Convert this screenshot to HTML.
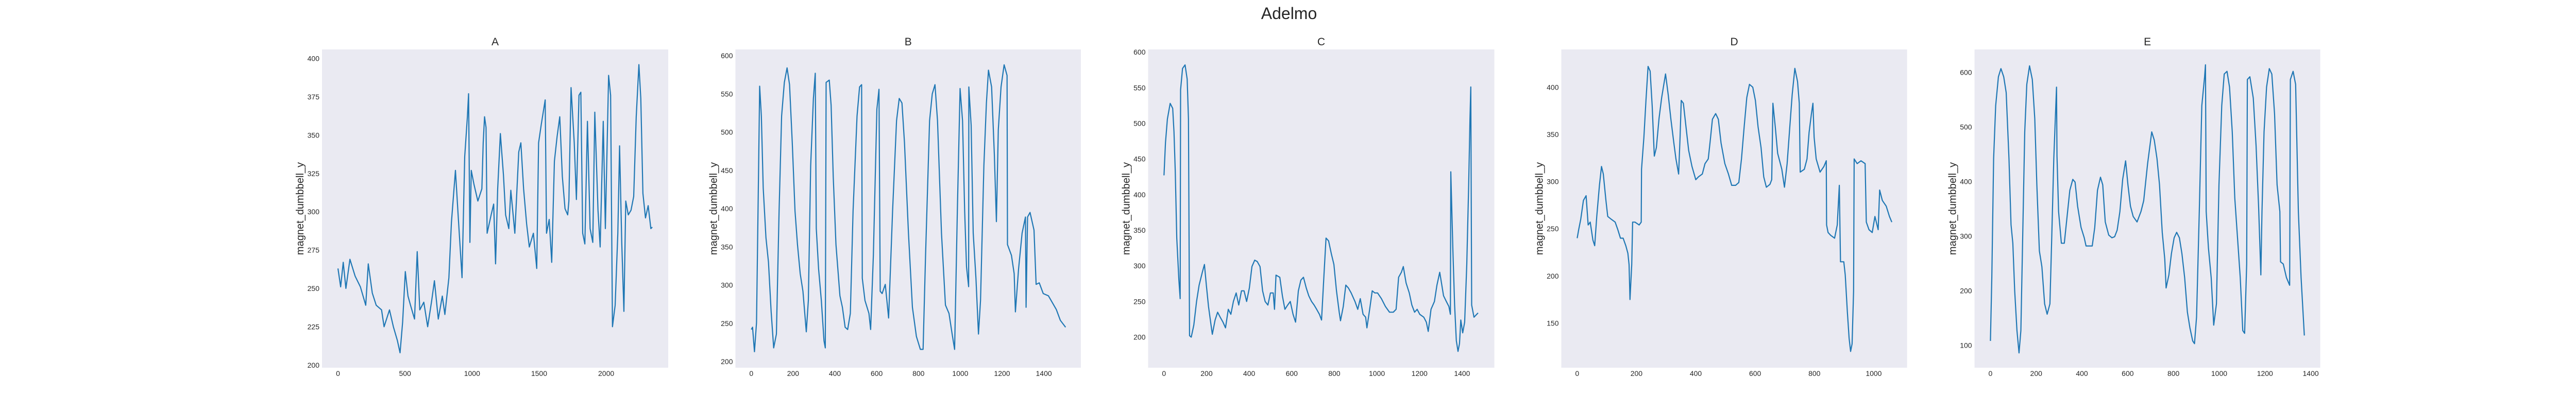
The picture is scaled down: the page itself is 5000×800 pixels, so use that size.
<!DOCTYPE html>
<html><head><meta charset="utf-8">
<style>
html,body{margin:0;padding:0;background:#fff;}
svg{display:block;font-family:"Liberation Sans",sans-serif;}
</style></head>
<body>
<svg id="chart" width="5000" height="800" viewBox="0 0 5000 800" xmlns="http://www.w3.org/2000/svg">
<text x="2502" y="37" text-anchor="middle" font-size="32" fill="#262626">Adelmo</text>
</svg>
<script>
const titles = ["A","B","C","D","E"];
const xA = [0,20,39,59,89,128,167,207,226,256,285,325,344,384,413,443,463,482,502,522,541,571,591,610,640,669,699,719,748,778,797,827,846,876,896,925,945,965,974,984,994,1014,1043,1073,1083,1093,1104,1112,1142,1161,1175,1191,1211,1234,1250,1274,1289,1319,1348,1364,1384,1407,1427,1457,1482,1496,1516,1545,1555,1575,1594,1614,1634,1654,1673,1693,1713,1722,1738,1762,1778,1797,1811,1825,1841,1860,1880,1900,1915,1939,1955,1978,1994,2018,2033,2047,2067,2087,2100,2116,2132,2146,2165,2185,2205,2224,2244,2258,2274,2293,2313,2333,2344];
const yA = [263,251,267,250,269,258,251,239,266,247,239,236,225,236,225,216,208,228,261,245,239,230,274,236,241,225,242,255,230,245,233,257,293,327,298,257,336,362,377,280,327,318,307,315,345,362,355,286,298,305,266,315,351,324,298,289,314,286,339,345,315,292,277,286,263,345,357,373,286,295,267,333,349,362,323,302,298,307,381,345,308,376,378,286,279,359,289,280,365,301,277,359,289,389,376,225,239,286,343,280,235,307,298,301,310,362,396,374,312,296,304,289,290];
const xB = [0,6,15,25,35,40,48,57,70,82,95,107,120,133,145,158,171,183,196,209,221,234,247,263,273,284,297,306,311,322,335,348,354,358,373,382,392,405,424,436,449,461,474,487,506,518,528,531,544,563,571,584,601,611,617,626,641,657,676,695,708,721,733,752,771,790,809,822,834,853,866,879,891,910,929,946,961,973,986,999,1011,1021,1030,1040,1041,1052,1062,1075,1087,1097,1113,1125,1135,1150,1163,1173,1182,1195,1210,1224,1226,1245,1258,1264,1279,1296,1312,1315,1322,1334,1353,1363,1378,1397,1422,1441,1460,1479,1504];
const yB = [242,245,213,251,456,560,521,427,362,330,265,218,236,397,521,565,584,562,486,397,353,315,292,239,280,456,544,577,374,321,280,227,218,565,568,535,442,353,286,271,245,242,263,397,521,559,562,309,280,263,242,339,530,556,292,289,301,257,397,515,544,538,486,368,271,233,216,216,339,515,550,562,515,368,274,263,236,216,397,557,515,397,324,298,559,509,368,309,236,280,456,538,581,559,471,383,503,559,588,574,353,339,315,265,321,368,389,271,389,395,372,301,303,289,286,277,268,254,245];
const xC = [0,7,16,29,41,47,53,60,70,76,78,87,99,109,115,120,128,140,153,165,180,190,199,209,221,227,240,252,264,277,289,302,314,326,339,351,364,376,388,401,413,426,438,451,463,475,488,500,513,519,526,544,556,568,581,593,606,618,631,643,655,668,680,693,705,717,730,740,752,761,773,786,798,810,823,829,842,854,866,879,897,910,922,935,947,953,966,978,990,1003,1021,1040,1059,1077,1090,1102,1115,1124,1137,1152,1164,1177,1189,1201,1220,1232,1241,1254,1270,1282,1295,1301,1313,1326,1338,1345,1347,1357,1365,1373,1381,1388,1394,1403,1412,1422,1431,1437,1441,1445,1456,1475];
const yC = [427,473,506,528,521,488,432,339,280,254,547,577,582,562,506,202,200,217,250,273,291,302,273,243,217,204,224,235,228,221,213,239,232,250,262,245,265,265,250,269,299,308,306,299,265,250,245,262,262,239,287,284,258,239,245,250,232,221,265,280,284,269,258,250,245,239,232,224,291,339,335,317,302,265,235,223,243,273,269,262,250,239,254,232,228,213,239,265,262,262,254,243,235,235,239,284,291,299,276,262,245,235,239,232,228,221,208,239,250,273,291,280,258,250,243,232,432,321,245,195,180,191,224,206,221,302,414,506,551,245,228,234];
const xD = [0,5,12,21,30,37,44,53,59,66,75,82,88,97,103,115,128,137,146,155,164,171,175,178,184,187,195,209,216,217,225,232,239,246,253,260,267,276,285,298,307,316,326,333,342,347,351,358,367,376,387,400,409,422,431,442,449,456,467,476,485,498,510,521,534,545,554,563,572,581,592,601,610,620,629,638,650,656,660,668,676,690,699,708,717,725,734,743,749,752,766,775,782,790,795,799,806,819,832,840,841,846,855,868,877,884,888,899,904,911,917,922,927,932,934,944,957,971,975,984,995,1004,1015,1020,1029,1042,1053,1061];
const yD = [240,249,260,280,285,254,257,238,232,263,296,316,308,280,263,260,257,249,240,240,232,224,212,175,212,257,257,254,257,313,347,386,422,417,380,327,336,367,389,414,392,366,341,324,308,347,386,383,358,333,316,302,305,308,319,324,344,366,372,366,341,319,308,296,296,299,324,358,389,403,400,386,358,336,305,294,297,302,383,358,330,313,294,319,358,392,420,406,383,310,313,324,352,372,383,347,324,310,316,322,254,246,243,240,254,296,215,215,201,162,134,120,128,184,324,319,322,319,257,249,246,263,249,291,280,274,263,257];
const xE = [0,6,14,23,35,46,58,69,81,90,98,106,116,125,133,141,150,159,171,183,194,203,214,225,237,248,260,268,277,289,291,298,310,323,335,347,360,370,381,396,410,418,433,445,456,468,481,491,502,517,531,543,554,566,578,591,601,612,624,641,658,670,687,705,716,728,739,751,762,768,780,791,803,814,826,837,849,861,872,884,892,901,913,924,936,940,943,953,965,976,988,999,1011,1022,1034,1045,1057,1068,1080,1092,1103,1111,1120,1123,1134,1149,1161,1172,1182,1187,1196,1207,1219,1230,1242,1253,1265,1268,1280,1294,1308,1311,1323,1334,1346,1358,1372];
const yE = [108,224,442,539,592,607,592,563,442,321,287,200,127,86,127,297,491,578,612,587,515,394,273,244,176,157,176,297,442,573,447,345,287,287,336,384,404,399,355,316,297,282,282,282,316,384,408,394,326,302,297,299,311,345,404,438,394,355,336,326,345,365,433,491,476,442,394,307,258,205,229,268,297,307,297,268,224,161,132,108,103,152,345,539,592,614,345,278,224,137,176,394,539,597,602,573,491,370,297,224,127,122,249,587,592,553,466,355,229,345,491,573,607,597,524,394,345,253,249,224,210,587,602,578,345,224,118];

const yTicksA = [200,225,250,275,300,325,350,375,400];
const xTicksA = [0,500,1000,1500,2000];
const yTicksB = [200,250,300,350,400,450,500,550,600];
const xTicksB = [0,200,400,600,800,1000,1200,1400];
const yTicksC = [200,250,300,350,400,450,500,550,600];
const xTicksC = [0,200,400,600,800,1000,1200,1400];
const yTicksD = [150,200,250,300,350,400];
const xTicksD = [0,200,400,600,800,1000];
const yTicksE = [100,200,300,400,500,600];
const xTicksE = [0,200,400,600,800,1000,1200,1400];

// layout (pixel calibration, not data)
const panels = [
 {L:625, R:1297, x0:0, px0:656, x1:2000, px1:1176.6, y0:200, py0:708.8, y1:400, py1:113.6, xs:xA, ys:yA, xt:xTicksA, yt:yTicksA},
 {L:1427.5, R:2098, x0:0, px0:1458.3, x1:1400, px1:2026.1, y0:200, py0:702.2, y1:600, py1:108, xs:xB, ys:yB, xt:xTicksB, yt:yTicksB},
 {L:2228.5, R:2900.5, x0:0, px0:2259.3, x1:1400, px1:2837.9, y0:200, py0:654.6, y1:600, py1:101.1, xs:xC, ys:yC, xt:xTicksC, yt:yTicksC},
 {L:3030.5, R:3701.6, x0:0, px0:3061.3, x1:1000, px1:3636.9, y0:150, py0:627.4, y1:400, py1:169.3, xs:xD, ys:yD, xt:xTicksD, yt:yTicksD},
 {L:3832.6, R:4503.6, x0:0, px0:3863.4, x1:1400, px1:4485.1, y0:100, py0:670.5, y1:600, py1:140.6, xs:xE, ys:yE, xt:xTicksE, yt:yTicksE}
];
const TOP = 96, BOT = 714;
const NS = "http://www.w3.org/2000/svg";
const svg = document.getElementById('chart');
function mk(tag, attrs, parent){
  const e = document.createElementNS(NS, tag);
  for (const k in attrs) e.setAttribute(k, attrs[k]);
  parent.appendChild(e);
  return e;
}
panels.forEach((p, i) => {
  const lc = titles[i].toLowerCase();
  const sx = v => p.px0 + (v - p.x0) * (p.px1 - p.px0) / (p.x1 - p.x0);
  const sy = v => p.py0 + (v - p.y0) * (p.py1 - p.py0) / (p.y1 - p.y0);
  const g = mk('g', {}, svg);
  
  
  const bg = mk('rect', {x:p.L, y:TOP, width:p.R - p.L, height:BOT - TOP, fill:'#EAEAF2'}, g);
  
  
  const t = mk('text', {x:(p.L + p.R) / 2, y:TOP - 8, 'text-anchor':'middle', 'font-size':21, fill:'#262626'}, g);
  t.textContent = titles[i];
  
  
  const yl = mk('text', {x:0, y:0, 'text-anchor':'middle', 'font-size':20, fill:'#262626', transform:'translate(' + (p.L - 36) + ',' + ((TOP + BOT) / 2) + ') rotate(-90)'}, g);
  yl.textContent = 'magnet_dumbbell_y';
  
  
  p.yt.forEach(v => {
    const tt = mk('text', {x:p.L - 5, y:sy(v) + 5, 'text-anchor':'end', 'font-size':14, fill:'#262626'}, g);
    tt.textContent = v;
    
    
  });
  p.xt.forEach(v => {
    const tt = mk('text', {x:sx(v), y:730, 'text-anchor':'middle', 'font-size':14, fill:'#262626'}, g);
    tt.textContent = v;
    
    
  });
  let d = '';
  p.xs.forEach((xv, j) => { d += (j ? 'L' : 'M') + sx(xv).toFixed(1) + ',' + sy(p.ys[j]).toFixed(1); });
  const path = mk('path', {d:d, fill:'none', stroke:'#1f77b4', 'stroke-width':2.2, 'stroke-linejoin':'round'}, g);
  
  
});
</script>
</body></html>
